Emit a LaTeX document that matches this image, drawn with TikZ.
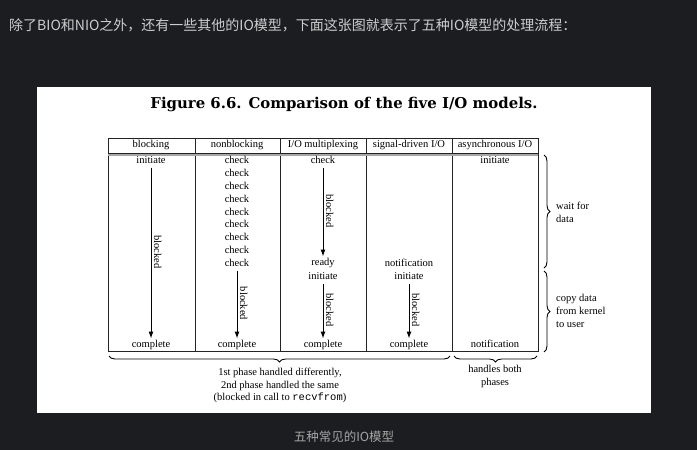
\documentclass[tikz,border=0pt]{standalone}
\usepackage{fontspec}
\setmainfont{Liberation Serif}
\setmonofont{Liberation Mono}
\newfontfamily\cjkfont{Noto Sans CJK SC}
\newfontfamily\titlefont{DejaVu Serif}
\usetikzlibrary{arrows.meta,decorations.pathreplacing}
\definecolor{pagebg}{RGB}{28,29,32}
\definecolor{toptext}{RGB}{205,205,205}
\definecolor{captext}{RGB}{165,165,165}
\definecolor{rulecol}{RGB}{35,35,35}
\tikzset{
  cell/.style={inner sep=0pt, font=\fontsize{10.5}{12}\selectfont, text=black},
  hdr/.style={inner sep=0pt, font=\fontsize{10.5}{12}\selectfont, text=black},
  arr/.style={draw=black, line width=1pt, -{Latex[length=7pt,width=5pt]}},
  blk/.style={midway, rotate=-90, anchor=south, inner sep=2.5pt, font=\fontsize{10.5}{12}\selectfont},
  bracedeco/.style={decorate, decoration={brace, amplitude=6pt}, line width=0.9pt, draw=black},
  side/.style={inner sep=0pt, align=left, anchor=west, font=\fontsize{10.5}{12.8}\selectfont},
  under/.style={inner sep=0pt, align=center, anchor=north, font=\fontsize{10.5}{12.6}\selectfont},
  gridline/.style={draw=rulecol, line width=1pt}
}
\begin{document}
\begin{tikzpicture}[x=1pt,y=-1pt]
\useasboundingbox (0,0) rectangle (697,450);
\fill[pagebg] (0,0) rectangle (697,450);
% top sentence
\node[anchor=west, inner sep=0pt, text=toptext, font=\cjkfont\fontsize{14}{16}\selectfont] (intro) at (9,25) {除了BIO和NIO之外，还有一些其他的IO模型，下面这张图就表示了五种IO模型的处理流程：};
% white panel
\fill[white] (37,87) rectangle (651,413);
\node[inner sep=0pt, font=\titlefont\bfseries\fontsize{14.9}{16}\selectfont] (title) at (344,104) {Figure 6.6. Comparison of the five I/O models.};
% table grid
\draw[gridline] (108,138) rectangle (538,351);
\foreach \x in {195,280,366,452} \draw[gridline] (\x,138) -- (\x,351);
\draw[draw=gray!70, line width=2.6pt] (108,154.5) -- (538,154.5);
\draw[draw=rulecol, line width=0.8pt] (108,153) -- (538,153);
% headers
\node[hdr] (h1) at (151,145) {blocking};
\node[hdr] (h2) at (237,145) {nonblocking};
\node[hdr] (h3) at (323,145) {I/O multiplexing};
\node[hdr] (h4) at (409,145) {signal-driven I/O};
\node[hdr] (h5) at (495,145) {asynchronous I/O};
% column 1
\node[cell] (ini1) at (151,160) {initiate};
\node[cell] (comp1) at (151,345) {complete};
\draw[arr, shorten <=4pt, shorten >=1.5pt] (ini1.south) -- (comp1.north) node[blk] {blocked};
% column 2
\foreach \i/\y in {1/160,2/173,3/186,4/199,5/212,6/224,7/237,8/250,9/263}
  \node[cell] (chk\i) at (237,\y) {check};
\node[cell] (comp2) at (237,345) {complete};
\draw[arr, shorten <=4pt, shorten >=1.5pt] (chk9.south) -- (comp2.north) node[blk] {blocked};
% column 3
\node[cell] (chkm) at (323,160) {check};
\node[cell] (ready) at (323,263) {ready};
\node[cell] (ini3) at (323,276) {initiate};
\node[cell] (comp3) at (323,345) {complete};
\draw[arr, shorten <=4pt, shorten >=1.5pt] (chkm.south) -- (ready.north) node[blk] {blocked};
\draw[arr, shorten <=4pt, shorten >=1.5pt] (ini3.south) -- (comp3.north) node[blk] {blocked};
% column 4
\node[cell] (note4) at (409,263) {notification};
\node[cell] (ini4) at (409,276) {initiate};
\node[cell] (comp4) at (409,345) {complete};
\draw[arr, shorten <=4pt, shorten >=1.5pt] (ini4.south) -- (comp4.north) node[blk] {blocked};
% column 5
\node[cell] (ini5) at (495,160) {initiate};
\node[cell, anchor=base] (note5) at (495,347.6) {notification};
% right braces
\coordinate (rb1a) at (544,155);
\coordinate (rb1b) at (544,268);
\coordinate (rb2a) at (544,271);
\coordinate (rb2b) at (544,352);
\draw[bracedeco] (rb1a) -- (rb1b);
\draw[bracedeco] (rb2a) -- (rb2b);
\node[side] (wait) at (556,212) {wait for\\data};
\node[side] (copy) at (556,311) {copy data\\from kernel\\to user};
% bottom braces
\coordinate (bb1a) at (109,356);
\coordinate (bb1b) at (450,356);
\coordinate (bb2a) at (454,356);
\coordinate (bb2b) at (537,356);
\draw[bracedeco] (bb1b) -- (bb1a);
\draw[bracedeco] (bb2b) -- (bb2a);
\node[under] (phase1) at (280,368) {1st phase handled differently,\\2nd phase handled the same\\(blocked in call to \texttt{recvfrom})};
\node[under] (phase2) at (495,365) {handles both\\phases};
% caption
\node[inner sep=0pt, text=captext, font=\cjkfont\fontsize{12.5}{14}\selectfont] (cap) at (344,437) {五种常见的IO模型};
\end{tikzpicture}
\end{document}
